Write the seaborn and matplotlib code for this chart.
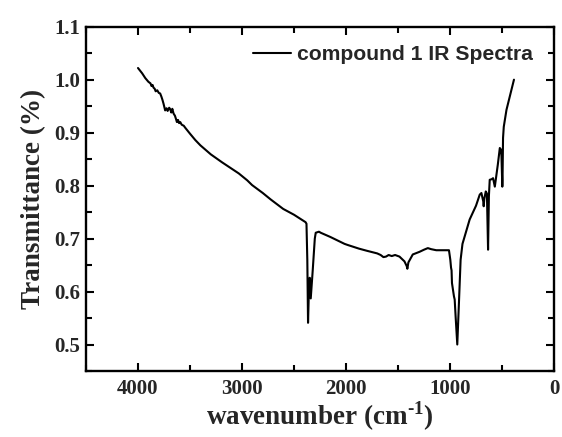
import matplotlib
matplotlib.use("Agg")
import matplotlib.pyplot as plt
import seaborn as sns
import pandas as pd
from matplotlib.ticker import MultipleLocator

# ---- data ----
wavenumber = [4000, 3960, 3930, 3900, 3880, 3870, 3860, 3851, 3840, 3830, 3815, 3800,
              3787, 3775, 3765, 3755, 3745, 3739, 3725, 3715, 3700, 3690, 3680, 3670,
              3658, 3645, 3635, 3626, 3615, 3605, 3594, 3580, 3560, 3545, 3500, 3449,
              3400, 3300, 3192, 3100, 3031, 2950, 2903, 2800, 2725, 2604, 2500, 2389,
              2380, 2372, 2365, 2357, 2349, 2339, 2320, 2300, 2291, 2260, 2243, 2150,
              2014, 1985, 1875, 1800, 1700, 1667, 1640, 1615, 1590, 1560, 1528, 1486,
              1438, 1416, 1410, 1400, 1358, 1293, 1250, 1213, 1181, 1132, 1050, 1010,
              997, 990, 985, 981, 962, 955, 946, 930, 914, 898, 880, 859, 811, 750,
              714, 698, 680, 676, 670, 656, 645, 634, 626, 618, 600, 586, 569, 540,
              521, 510, 505, 497, 495, 490, 483, 457, 385]
transmittance = [1.022, 1.012, 1.003, 0.996, 0.993, 0.988, 0.990, 0.985, 0.983, 0.978, 0.980, 0.975,
                 0.974, 0.968, 0.962, 0.955, 0.947, 0.942, 0.946, 0.941, 0.947, 0.944, 0.938, 0.945,
                 0.936, 0.932, 0.926, 0.920, 0.924, 0.918, 0.920, 0.915, 0.913, 0.909, 0.898, 0.886,
                 0.876, 0.859, 0.844, 0.832, 0.823, 0.810, 0.801, 0.786, 0.774, 0.756, 0.745, 0.731,
                 0.728, 0.660, 0.541, 0.600, 0.626, 0.587, 0.640, 0.700, 0.711, 0.713, 0.711, 0.703,
                 0.690, 0.688, 0.681, 0.677, 0.672, 0.669, 0.665, 0.666, 0.669, 0.667, 0.669, 0.666,
                 0.657, 0.648, 0.643, 0.655, 0.670, 0.675, 0.679, 0.682, 0.680, 0.678, 0.678, 0.678,
                 0.660, 0.645, 0.640, 0.616, 0.591, 0.585, 0.553, 0.500, 0.579, 0.660, 0.690, 0.704,
                 0.736, 0.762, 0.783, 0.786, 0.770, 0.761, 0.775, 0.789, 0.785, 0.679, 0.780, 0.811,
                 0.812, 0.814, 0.798, 0.840, 0.871, 0.868, 0.855, 0.798, 0.810, 0.890, 0.911, 0.943,
                 1.000]
series_label = "compound 1 IR Spectra"
x_label = "wavenumber (cm$^{\\text{-1}}$)"
y_label = "Transmittance (%)"

df = pd.DataFrame({"wavenumber": wavenumber, "T": transmittance})

sns.set_style("ticks")
plt.rcParams["font.family"] = ["Liberation Serif", "DejaVu Serif"]
plt.rcParams["mathtext.fontset"] = "custom"
plt.rcParams["mathtext.rm"] = "Liberation Serif:bold"
plt.rcParams["mathtext.bf"] = "Liberation Serif:bold"

fig = plt.figure(figsize=(5.62, 4.37), dpi=100)
ax = fig.add_axes([86 / 562, 1 - 371 / 437, (554 - 86) / 562, (371 - 26.7) / 437])

sns.lineplot(data=df, x="wavenumber", y="T", sort=False, estimator=None,
             color="black", linewidth=1.5, ax=ax, label=series_label)

ax.set_xlim(4500, 0)
ax.set_ylim(0.45, 1.1)
ax.xaxis.set_major_locator(MultipleLocator(1000))
ax.xaxis.set_minor_locator(MultipleLocator(500))
ax.yaxis.set_major_locator(MultipleLocator(0.1))
ax.yaxis.set_minor_locator(MultipleLocator(0.05))
ax.yaxis.set_major_formatter(matplotlib.ticker.FormatStrFormatter("%.1f"))

for s in ax.spines.values():
    s.set_linewidth(1.7)
    s.set_color("black")
    s.set_visible(True)

ax.tick_params(which="both", direction="in", top=True, right=True, width=1.5, color="black")
ax.tick_params(which="major", length=6)
ax.tick_params(which="minor", length=4)
ax.tick_params(axis="x", which="major", pad=6, labelsize=15)
ax.tick_params(axis="y", which="major", pad=4, labelsize=15)
for lab in ax.get_xticklabels() + ax.get_yticklabels():
    lab.set_fontweight("bold")

ax.set_xlabel(x_label, fontsize=19.5, fontweight="bold", labelpad=0)
ax.set_ylabel(y_label, fontsize=19.5, fontweight="bold", labelpad=6)

leg = ax.legend(loc="center right", bbox_to_anchor=(0.955, 0.919), frameon=False,
                borderpad=0, borderaxespad=0, handlelength=1.8, handletextpad=0.3,
                prop={"family": "Liberation Sans", "weight": "bold", "size": 15.2})

fig.savefig("out.png", dpi=100, facecolor="white")
